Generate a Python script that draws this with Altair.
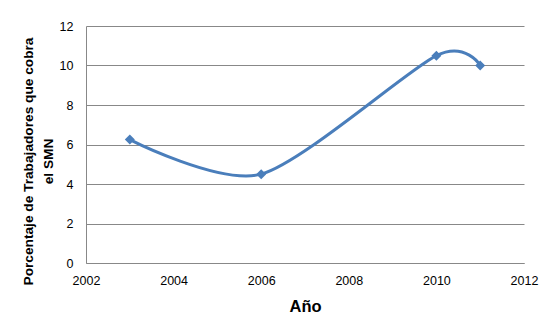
import altair as alt
import pandas as pd

years = [2003, 2006, 2010, 2011]
values = [6.25, 4.5, 10.5, 10.0]
x_ticks = [2002, 2004, 2006, 2008, 2010, 2012]
y_ticks = [0, 2, 4, 6, 8, 10, 12]

df = pd.DataFrame({"Año": years, "Porcentaje": values})

FONT = "Liberation Sans"
BLUE = "#4A7EBB"
GRID = "#888888"

x = alt.X(
    "Año:Q",
    scale=alt.Scale(domain=[2002, 2012], nice=False, zero=False),
    axis=alt.Axis(
        title="Año",
        values=x_ticks,
        format="d",
        grid=False,
        ticks=False,
        labelFlush=False,
        domainColor=GRID,
        labelPadding=11,
        labelFont=FONT,
        labelFontSize=12.5,
        labelColor="#000000",
        titleFont=FONT,
        titleFontSize=16.5,
        titleFontWeight="bold",
        titleColor="#000000",
        titleBaseline="alphabetic",
        titleY=48,
    ),
)
y = alt.Y(
    "Porcentaje:Q",
    scale=alt.Scale(domain=[0, 12], nice=False),
    axis=alt.Axis(
        title=["Porcentaje de Trabajadores que cobra", "el SMN"],
        values=y_ticks,
        grid=True,
        gridColor=GRID,
        ticks=False,
        labelFlush=False,
        domainColor=GRID,
        labelPadding=13,
        labelFont=FONT,
        labelFontSize=12.5,
        labelColor="#000000",
        titleFont=FONT,
        titleFontSize=13.7,
        titleFontWeight="bold",
        titleColor="#000000",
        titleAngle=270,
        titleAlign="center",
        titleBaseline="middle",
        titleLineHeight=20,
        titleX=-58,
        titleY=135,
    ),
)

line = alt.Chart(df).mark_line(
    interpolate="cardinal", tension=0.2, color=BLUE, strokeWidth=3
).encode(x=x, y=y)

pts = alt.Chart(df).mark_point(
    shape="diamond", filled=True, color=BLUE, size=100, opacity=1
).encode(x=x, y=y)

chart = (
    alt.layer(line, pts)
    .properties(
        width=438,
        height=237,
        autosize=alt.AutoSizeParams(type="none"),
        padding={"left": 86, "top": 26, "right": 28, "bottom": 67},
        background="white",
    )
    .configure_view(stroke=None)
)

chart.save("out.html", embed_options={"renderer": "svg", "actions": False})
